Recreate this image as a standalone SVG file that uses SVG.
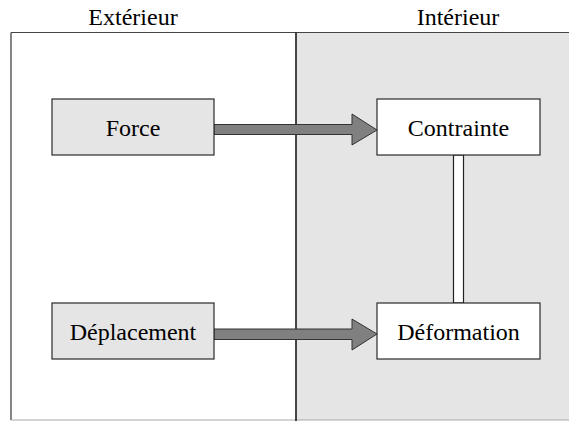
<svg xmlns="http://www.w3.org/2000/svg" width="569" height="421" viewBox="0 0 569 421">
<style>
text{font-family:"Liberation Serif",Tinos,"Times New Roman",Times,"Nimbus Roman","DejaVu Serif",serif;font-size:24px;fill:#000;text-anchor:middle}
.box{stroke:#2a2a2a;stroke-width:1.2}
.grey{fill:#e5e5e5}
.white{fill:#fff}
.arrow{fill:#808080;stroke:#333;stroke-width:1}
</style>
<rect width="569" height="421" fill="#fff"/>
<g id="regions">
<rect x="296" y="33" width="273" height="387" fill="#e5e5e5"/>
<line x1="11" y1="32.5" x2="569" y2="32.5" stroke="#444" stroke-width="1.2"/>
<line x1="11" y1="32.5" x2="11" y2="420" stroke="#333" stroke-width="1.2"/>
<line x1="11" y1="420" x2="569" y2="420" stroke="#aaa" stroke-width="1.2"/>
<line x1="296" y1="32.5" x2="296" y2="421" stroke="#1a1a1a" stroke-width="1.6"/>
<text x="133" y="25">Extérieur</text>
<text x="458" y="25">Intérieur</text>
</g>
<g id="connectors">
<polygon class="arrow" points="214,124.5 352,124.5 352,114 377,130 352,145 352,134.5 214,134.5"/>
<polygon class="arrow" points="214,329 352,329 352,319 377,334 352,350 352,339.5 214,339.5"/>
<rect x="453.5" y="155" width="10" height="148" fill="#fff" stroke="#222" stroke-width="1.2"/>
</g>
<g id="force">
<rect class="box grey" x="52" y="99" width="162" height="56"/>
<text x="133" y="135.5">Force</text>
</g>
<g id="contrainte">
<rect class="box white" x="377" y="99" width="163" height="56"/>
<text x="458.5" y="135.5">Contrainte</text>
</g>
<g id="deplacement">
<rect class="box grey" x="52" y="303" width="162" height="56"/>
<text x="133" y="339.5">Déplacement</text>
</g>
<g id="deformation">
<rect class="box white" x="377" y="303" width="163" height="56"/>
<text x="458.5" y="339.5">Déformation</text>
</g>
</svg>
